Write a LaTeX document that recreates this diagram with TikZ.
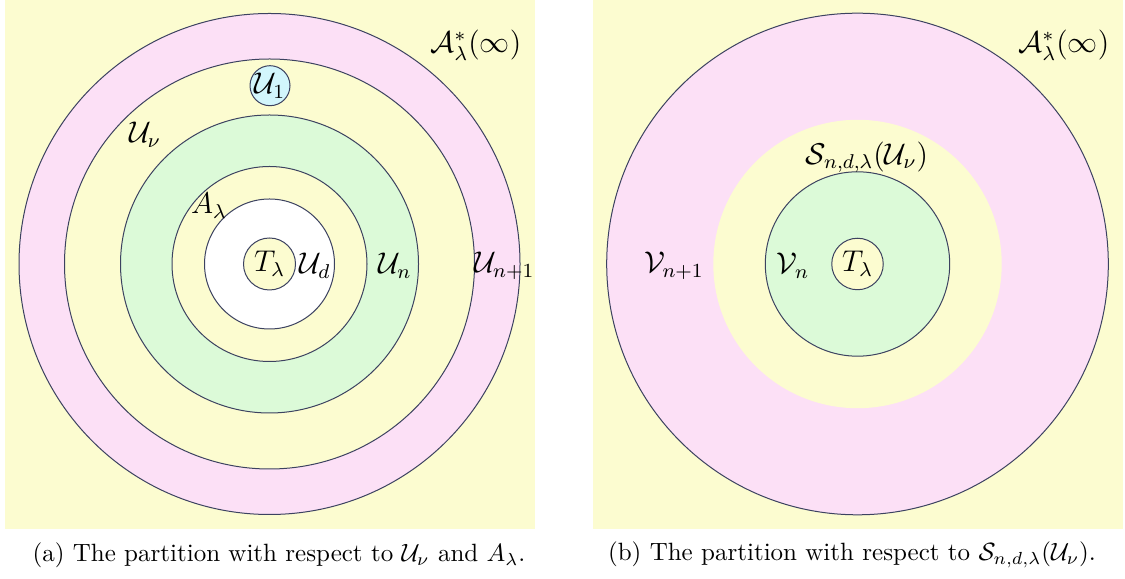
\documentclass[tikz,border=0pt]{standalone}
\usepackage{amsmath, amssymb}
\usepackage{tikz}
\usetikzlibrary{positioning}
\definecolor{bgyellow}{RGB}{252,252,208}
\definecolor{ringpink}{RGB}{252,224,246}
\definecolor{ringgreen}{RGB}{220,250,216}
\definecolor{ballblue}{RGB}{210,246,252}
\definecolor{edgeblue}{RGB}{60,66,96}

\begin{document}
\begin{tikzpicture}[x=0.4pt, y=0.4pt,
  ring/.style={draw=edgeblue, line width=0.4pt},
  lbl/.style={font=\large, inner sep=0pt},
  ball/.style={circle, draw=edgeblue, line width=0.4pt, inner sep=0pt, font=\large}]
  \useasboundingbox (0,0) rectangle (1125,579);
  % (a) rings around T_lambda
  \fill[bgyellow] (4.5,50) rectangle (534.5,579);
  \coordinate (ca) at (269.5,315);
  \filldraw[ring, fill=ringpink] (ca) circle (250.5);
  \filldraw[ring, fill=bgyellow] (ca) circle (205);
  \node[ball, fill=ballblue, minimum size=16pt] (uone) at (270,493.3) {$\mathcal{U}_1$};
  \filldraw[ring, fill=ringgreen] (ca) circle (149);
  \filldraw[ring, fill=bgyellow] (ca) circle (97.5);
  \filldraw[ring, fill=white] (ca) circle (65);
  \node[ball, fill=bgyellow, minimum size=20.8pt] (ta) at (ca) {$T_\lambda$};
  \node[lbl] (infa) at (476,534) {$\mathcal{A}^*_\lambda(\infty)$};
  \node[lbl] (unu) at (145,444) {$\mathcal{U}_\nu$};
  \node[lbl] (alam) at (209,373) {$A_\lambda$};
  \node[lbl] (ud) at (315,313) {$\mathcal{U}_d$};
  \node[lbl] (un) at (395,313) {$\mathcal{U}_n$};
  \node[lbl] (unone) at (504.5,313) {$\mathcal{U}_{n+1}$};
  \node (capa) at (279,24) {(a) The partition with respect to $\mathcal{U}_\nu$ and $A_\lambda$.};
  % (b) the S_{n,d,lambda} band
  \fill[bgyellow] (592.5,50) rectangle (1122.5,579);
  \coordinate (cb) at (857.5,315);
  \filldraw[ring, fill=ringpink] (cb) circle (250.8);
  \fill[bgyellow] (cb) circle (144.2);
  \filldraw[ring, fill=ringgreen] (cb) circle (92.2);
  \node[ball, fill=bgyellow, minimum size=20.6pt] (tb) at (cb) {$T_\lambda$};
  \node[lbl] (infb) at (1064,534) {$\mathcal{A}^*_\lambda(\infty)$};
  \node[lbl] (snd) at (867,422) {$\mathcal{S}_{n,d,\lambda}(\mathcal{U}_\nu)$};
  \node[lbl] (vnone) at (674,313) {$\mathcal{V}_{n+1}$};
  \node[lbl] (vn) at (793,313) {$\mathcal{V}_n$};
  \node (capb) at (852,24) {(b) The partition with respect to $\mathcal{S}_{n,d,\lambda}(\mathcal{U}_\nu)$.};
\end{tikzpicture}
\end{document}
